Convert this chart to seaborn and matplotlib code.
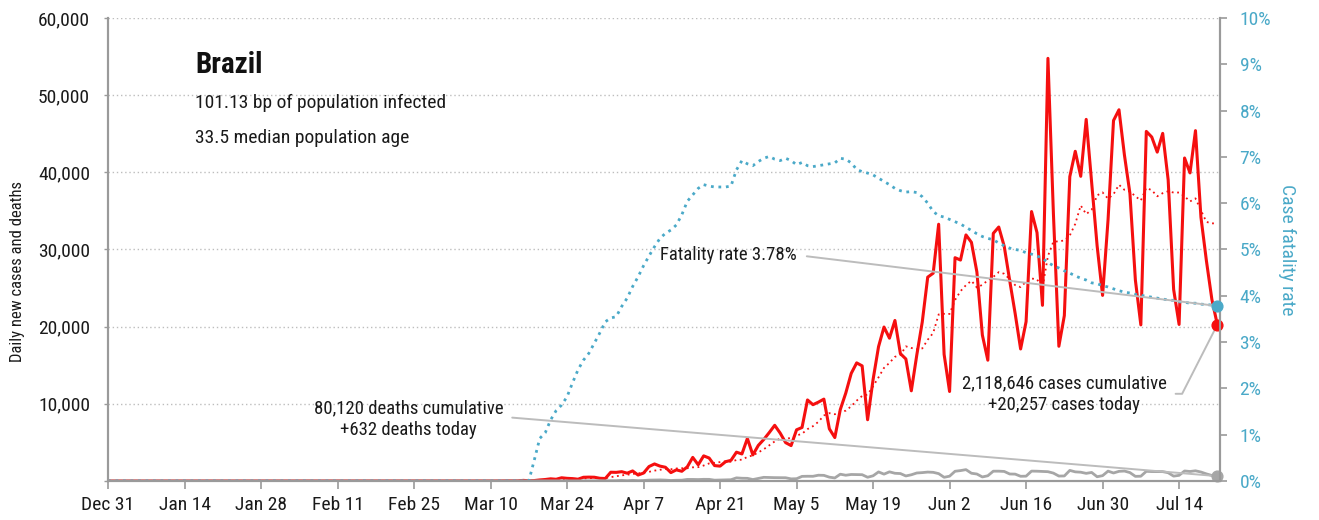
import numpy as np
import pandas as pd
import matplotlib
matplotlib.use("Agg")
import matplotlib.pyplot as plt
import matplotlib.dates as mdates
import seaborn as sns

# chart dates: Dec 31 2019 .. Jul 21 2020, one value per day
dates = pd.date_range("2019-12-31", "2020-07-21", freq="D")

# daily new cases, by chart month
cases_feb_end = [1, 0, 0]
cases_mar = [1, 0, 0, 0, 1, 5, 5, 6, 6, 0, 9, 18, 25, 21, 23, 79, 34, 57, 137,
             193, 283, 224, 418, 345, 310, 232, 482, 502, 487, 352, 323]
cases_apr = [1138, 1119, 1208, 1012, 1304, 770, 1031, 1873, 2210, 1930, 1781,
             1089, 1442, 1261, 1832, 3058, 2105, 3257, 2976, 1996, 1927, 2498,
             2678, 3735, 3503, 5514, 3379, 4613, 5385, 6276]
cases_may = [7218, 6209, 4970, 4588, 6633, 6935, 10503, 9888, 10222, 10611,
             6760, 5632, 9258, 11385, 13944, 15305, 14919, 7938, 13140, 17408,
             19951, 18508, 20803, 16508, 15813, 11687, 16324, 20599, 26417,
             26928, 33274]
cases_jun = [16409, 11598, 28936, 28633, 31890, 30925, 27075, 18912, 15654,
             32091, 32913, 30412, 25982, 21704, 17110, 20647, 34918, 32188,
             22765, 54771, 34666, 17459, 21432, 39436, 42725, 39483, 46860,
             38693, 30476, 24052]
cases_jul = [33846, 46712, 48105, 42223, 37279, 26051, 20229, 45305, 44571,
             42619, 45048, 39023, 24831, 20286, 41857, 39924, 45403, 34177,
             28532, 23529, 20257]

# daily deaths, by chart month
deaths_mar = [1, 3, 2, 5, 7, 7, 9, 12, 13, 18, 15, 19, 25, 23]
deaths_apr = [42, 39, 84, 35, 86, 41, 67, 114, 133, 141, 115, 68, 99, 105, 204,
              204, 188, 217, 213, 108, 125, 154, 165, 407, 357, 346, 189, 338,
              474, 449]
deaths_may = [435, 428, 421, 275, 296, 600, 615, 610, 751, 730, 496, 396, 881,
              749, 844, 824, 816, 485, 674, 1179, 888, 1188, 1001, 965, 653,
              807, 1039, 1086, 1156, 1124, 956]
deaths_jun = [480, 623, 1262, 1349, 1473, 1005, 904, 525, 679, 1272, 1274, 1239,
              909, 892, 612, 627, 1282, 1269, 1238, 1206, 1022, 641, 654, 1374,
              1185, 1141, 990, 1109, 552, 692]
deaths_jul = [1280, 1038, 1252, 1290, 1091, 602, 620, 1254, 1223, 1220, 1214,
              1071, 631, 733, 1300, 1233, 1322, 1163, 921, 716, 632]

# case fatality rate (%), by chart month
rate_mar = [0, 0.45, 0.92, 1.04, 1.32, 1.52, 1.64, 1.82, 2.12, 2.40, 2.61, 2.76,
            2.98, 3.20, 3.44]
rate_apr = [3.52, 3.55, 3.77, 3.95, 4.20, 4.41, 4.65, 4.86, 5.06, 5.24, 5.35,
            5.42, 5.53, 5.75, 6.04, 6.18, 6.32, 6.40, 6.37, 6.35, 6.35, 6.35,
            6.37, 6.72, 6.92, 6.85, 6.81, 6.90, 6.97, 7.01]
rate_may = [6.95, 6.92, 6.97, 6.92, 6.83, 6.88, 6.81, 6.79, 6.81, 6.83, 6.85,
            6.87, 6.97, 6.95, 6.87, 6.73, 6.68, 6.65, 6.61, 6.54, 6.47, 6.40,
            6.32, 6.27, 6.24, 6.25, 6.23, 6.14, 6.00, 5.82, 5.73]
rate_jun = [5.70, 5.65, 5.60, 5.55, 5.48, 5.41, 5.34, 5.28, 5.24, 5.21, 5.14,
            5.08, 5.03, 5.00, 4.98, 4.93, 4.90, 4.86, 4.81, 4.72, 4.65, 4.60,
            4.54, 4.49, 4.43, 4.38, 4.34, 4.28, 4.26, 4.22]
rate_jul = [4.19, 4.15, 4.11, 4.08, 4.06, 4.03, 4.01, 3.99, 3.97, 3.95, 3.93,
            3.91, 3.90, 3.87, 3.86, 3.84, 3.84, 3.82, 3.81, 3.80, 3.78]

tick_labels = ["Dec 31", "Jan 14", "Jan 28", "Feb 11", "Feb 25", "Mar 10",
               "Mar 24", "Apr 7", "Apr 21", "May 5", "May 19", "Jun 2",
               "Jun 16", "Jun 30", "Jul 14"]

cases = [0] * 58 + cases_feb_end + cases_mar + cases_apr + cases_may + cases_jun + cases_jul
deaths = [0] * 78 + deaths_mar + deaths_apr + deaths_may + deaths_jun + deaths_jul
rate = [0] * 77 + rate_mar + rate_apr + rate_may + rate_jun + rate_jul

df = pd.DataFrame({"date": dates, "cases": cases, "deaths": deaths, "rate": rate})
df["avg"] = df["cases"].rolling(7, min_periods=1).mean()
last = df.iloc[-1]

RED = "#f50f0f"
BLUE = "#4aa9c8"
GREY = "#a6a6a6"
SPINE = "#9a9a9a"
LINK = "#bcbcbc"
INK = "#1a1a1a"

sns.set_style("white")
plt.rcParams["font.family"] = ["Roboto Condensed", "Barlow Semi Condensed", "DejaVu Sans"]

fig = plt.figure(figsize=(13.19, 5.2), dpi=100)
ax = fig.add_axes([0.0819, 0.075, 0.8431, 0.8904])

sns.lineplot(data=df, x="date", y="cases", ax=ax, color=RED, lw=2.2)
sns.lineplot(data=df, x="date", y="avg", ax=ax, color=RED, lw=1.3,
             linestyle=(0, (1, 2)))
sns.lineplot(data=df, x="date", y="deaths", ax=ax, color=GREY, lw=2.0)

ax2 = ax.twinx()
sns.lineplot(data=df, x="date", y="rate", ax=ax2, color=BLUE, lw=2.0,
             linestyle=(0, (1, 1.7)))

ax.set_xlim(df["date"].iloc[0], df["date"].iloc[-1] + pd.Timedelta(hours=12))
ax.set_ylim(0, 60000)
ax2.set_ylim(0, 10)

ax.set_yticks(range(0, 60001, 10000))
ax.yaxis.set_major_formatter(plt.FuncFormatter(lambda v, p: "" if v == 0 else f"{v:,.0f}"))
ax2.set_yticks(range(0, 11))
ax2.set_yticklabels([f"{v}%" for v in range(0, 11)])

ax.set_xticks(df["date"].iloc[::14])
ax.set_xticklabels(tick_labels)

ax.grid(axis="y", linestyle=(0, (1, 2)), color="#bdbdbd", lw=1)
ax.grid(axis="x", visible=False)
ax2.grid(False)

for a in (ax, ax2):
    a.spines["top"].set_visible(False)
    for s in ("left", "right", "bottom"):
        a.spines[s].set_color(SPINE)
        a.spines[s].set_linewidth(1.5)

ax.tick_params(axis="y", length=3, width=1, color=SPINE, pad=10, labelsize=14,
               labelcolor=INK)
ax.tick_params(axis="x", length=6, width=1.2, color=SPINE, pad=5, labelsize=14,
               labelcolor=INK, bottom=True)
ax2.tick_params(axis="y", length=5, width=1.2, color=SPINE, pad=9, labelsize=14,
                labelcolor=BLUE, right=True)

ax.set_xlabel("")
ax.set_ylabel("")
ax2.set_xlabel("")
ax2.set_ylabel("")
fig.text(0.0136, 0.478, "Daily new cases and deaths", rotation=90,
         ha="center", va="center", fontsize=12, color=INK)
fig.text(0.9757, 0.519, "Case fatality rate", rotation=270, ha="center",
         va="center", fontsize=14, color=BLUE)

# end points
ax.scatter([last["date"]], [last["cases"]], s=60, color=RED, zorder=5, clip_on=False)
ax.scatter([last["date"]], [last["deaths"]], s=60, color=GREY, zorder=5, clip_on=False)
ax2.scatter([last["date"]], [last["rate"]], s=60, color=BLUE, zorder=5, clip_on=False)

xd = mdates.date2num(last["date"])
link = dict(arrowstyle="-", color=LINK, lw=1.4, shrinkB=0)

ax2.annotate(f"Fatality rate {last['rate']:.2f}%",
             xy=(xd, last["rate"]),
             xytext=(mdates.date2num(pd.Timestamp("2020-04-22 12:00")), 4.88),
             ha="center", va="center", fontsize=13.5, color=INK,
             arrowprops=dict(link, relpos=(1, 0.5), shrinkA=5))

ax.annotate("2,118,646 cases cumulative\n+20,257 cases today",
            xy=(xd, last["cases"]),
            xytext=(mdates.date2num(pd.Timestamp("2020-06-23")), 11300),
            ha="center", va="center", fontsize=13.5, color=INK, linespacing=1.25,
            arrowprops=dict(link, relpos=(1, 0.5), shrinkA=4,
                            connectionstyle="angle,angleA=0,angleB=63"))

ax.annotate("80,120 deaths cumulative\n+632 deaths today",
            xy=(xd, last["deaths"]),
            xytext=(mdates.date2num(pd.Timestamp("2020-02-24")), 8000),
            ha="center", va="center", fontsize=13.5, color=INK, linespacing=1.25,
            arrowprops=dict(link, relpos=(1, 0.56), shrinkA=4))

fig.text(0.1478, 0.875, "Brazil", fontsize=21, fontweight="bold", va="center",
         color="#111111")
fig.text(0.1478, 0.802, "101.13 bp of population infected", fontsize=14,
         va="center", color=INK)
fig.text(0.1478, 0.735, "33.5 median population age", fontsize=14,
         va="center", color=INK)

fig.savefig("out.png", dpi=100)
